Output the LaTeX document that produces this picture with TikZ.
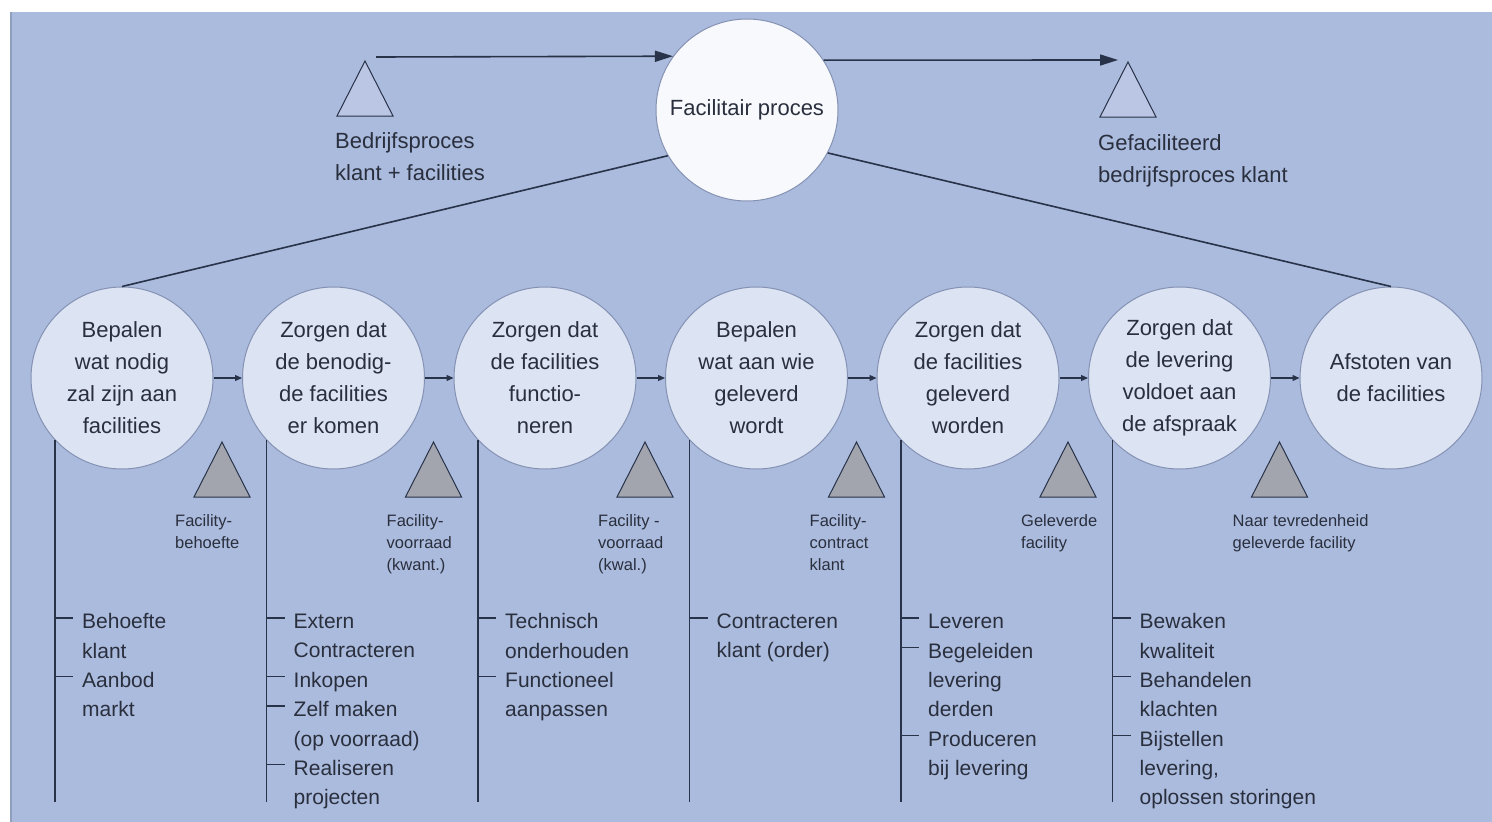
\documentclass[tikz,border=0pt]{standalone}
\usepackage{fontspec}
\setmainfont{Liberation Sans}
\usetikzlibrary{arrows.meta}
\definecolor{panel}{HTML}{ABBBDD}
\definecolor{paneledge}{HTML}{8FA0BE}
\definecolor{ink}{HTML}{2A2F3E}
\definecolor{linec}{HTML}{283248}
\definecolor{procfill}{HTML}{DCE3F3}
\definecolor{procedge}{HTML}{8592B3}
\definecolor{topfill}{HTML}{F8F9FD}
\definecolor{grayfill}{HTML}{A2A5AE}
\definecolor{lighttri}{HTML}{BAC6E3}
\newcommand{\Item}[4]{%
  \draw[tick] (#2,{621+29.3*#3-3}) -- ++(18,0);
  \node[item] (#1) at ({#2+27},{621+29.3*#3-7.5}) {#4};}
\begin{document}
\begin{tikzpicture}[x=1pt,y=-1pt,
  proc/.style={circle, minimum size=182pt, inner sep=0pt, fill=procfill, draw=procedge, line width=1pt,
    align=center, text=ink, font=\fontsize{22}{32}\selectfont},
  topcirc/.style={proc, fill=topfill, draw=procedge},
  conn/.style={draw=linec, line width=1.6pt},
  bigarrow/.style={conn, -{Triangle[length=18pt,width=11pt]}},
  smallarrow/.style={draw=linec, line width=1.2pt, -{Triangle[length=7pt,width=6pt]}},
  vline/.style={draw=linec, line width=1.8pt},
  tick/.style={draw=linec, line width=1.2pt},
  item/.style={anchor=north west, inner sep=0pt, align=left, text=ink, font=\fontsize{21}{29.3}\selectfont},
  tlab/.style={anchor=north west, inner sep=0pt, align=left, text=ink, font=\fontsize{16.5}{22}\selectfont},
  toplab/.style={anchor=north west, inner sep=0pt, align=left, text=ink, font=\fontsize{22}{32}\selectfont},
  gtri/.style={fill=grayfill, draw=linec, line width=1pt, line join=miter},
  ltri/.style={fill=lighttri, draw=linec, line width=1pt, line join=miter}]
\useasboundingbox (0,0) rectangle (1492,822);
\fill[white] (0,0) rectangle (1492,822);
\fill[panel] (10,12) rectangle (1492,822);
\draw[paneledge, line width=1.5pt] (11,12) -- (11,822);

% top process
\node[topcirc] (top) at (747,110) {Facilitair proces};

% sub processes
\node[proc] (c1) at (122,378) {Bepalen\\wat nodig\\zal zijn aan\\facilities};
\node[proc] (c2) at (333.5,378) {Zorgen dat\\de benodig-\\de facilities\\er komen};
\node[proc] (c3) at (545,378) {Zorgen dat\\de facilities\\functio-\\neren};
\node[proc] (c4) at (756.5,378) {Bepalen\\wat aan wie\\geleverd\\wordt};
\node[proc] (c5) at (968,378) {Zorgen dat\\de facilities\\geleverd\\worden};
\node[proc] (c6) at (1179.5,378) {Zorgen dat\\de levering\\voldoet aan\\de afspraak};
\node[proc] (c7) at (1391,378) {Afstoten van\\de facilities};

% top triangles and labels
\draw[ltri] (365,61) -- ++(28,55) -- ++(-56,0) -- cycle;
\draw[ltri] (1128,62) -- ++(28,55) -- ++(-56,0) -- cycle;
\node[toplab] (inl) at (335,132) {Bedrijfsproces\\klant + facilities};
\node[toplab] (outl) at (1098,134) {Gefaciliteerd\\bedrijfsproces klant};

% top connectors
\coordinate (s1) at (376,57);
\coordinate (e2) at (1118,60);
\draw[bigarrow] (s1) -- (top.144);
\draw[bigarrow] (top.33) -- (e2);
\draw[conn] (top.210) -- (c1.north);
\draw[conn] (top.332) -- (c7.north);

% small arrows between sub processes
\draw[smallarrow] (c1.east) -- (c2.west);
\draw[smallarrow] (c2.east) -- (c3.west);
\draw[smallarrow] (c3.east) -- (c4.west);
\draw[smallarrow] (c4.east) -- (c5.west);
\draw[smallarrow] (c5.east) -- (c6.west);
\draw[smallarrow] (c6.east) -- (c7.west);

% gray triangles
\foreach \x in {222,433.5,645,856.5,1068,1279.5}
  \draw[gtri] (\x,442) -- ++(28,55) -- ++(-56,0) -- cycle;

% triangle labels
\node[tlab] (t1) at (175,514) {Facility-\\behoefte};
\node[tlab] (t2) at (386.5,514) {Facility-\\voorraad\\(kwant.)};
\node[tlab] (t3) at (598,514) {Facility -\\voorraad\\(kwal.)};
\node[tlab] (t4) at (809.5,514) {Facility-\\contract\\klant};
\node[tlab] (t5) at (1021,514) {Geleverde\\facility};
\node[tlab] (t6) at (1232.5,514) {Naar tevredenheid\\geleverde facility};

% vertical lines
\coordinate (bot) at (0,802);
\foreach \c in {c1,c2,c3,c4,c5,c6}
  \draw[vline] (\c.223) -- (\c.223 |- bot);

% activity lists
\Item{a11}{55}{0}{Behoefte\\klant}
\Item{a12}{55}{2}{Aanbod\\markt}
\Item{a21}{266.5}{0}{Extern\\Contracteren}
\Item{a22}{266.5}{2}{Inkopen}
\Item{a23}{266.5}{3}{Zelf maken\\(op voorraad)}
\Item{a24}{266.5}{5}{Realiseren\\projecten}
\Item{a31}{478}{0}{Technisch\\onderhouden}
\Item{a32}{478}{2}{Functioneel\\aanpassen}
\Item{a41}{689.5}{0}{Contracteren\\klant (order)}
\Item{a51}{901}{0}{Leveren}
\Item{a52}{901}{1}{Begeleiden\\levering\\derden}
\Item{a53}{901}{4}{Produceren\\bij levering}
\Item{a61}{1112.5}{0}{Bewaken\\kwaliteit}
\Item{a62}{1112.5}{2}{Behandelen\\klachten}
\Item{a63}{1112.5}{4}{Bijstellen\\levering,\\oplossen storingen}
\end{tikzpicture}
\end{document}
